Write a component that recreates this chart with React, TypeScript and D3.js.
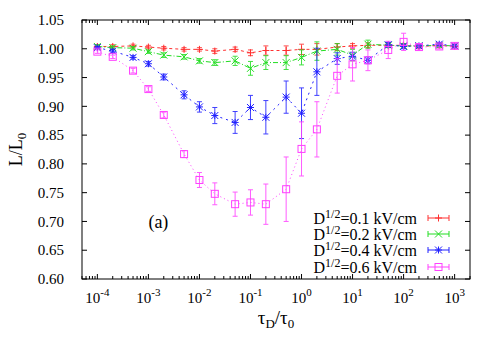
import React from 'react'
import * as d3 from 'd3'

// tau_D / tau_0 values (1-2-5 per decade)
const taus = [1e-4, 2e-4, 5e-4, 1e-3, 2e-3, 5e-3, 1e-2, 2e-2, 5e-2, 1e-1, 2e-1, 5e-1, 1, 2, 5, 10, 20, 50, 100, 200, 500, 1000]

const red01 = [1.004, 1.004, 1.005, 1.003, 1.001, 0.999, 0.999, 0.996, 0.999, 0.993, 0.997, 0.997, 0.999, 0.999, 1.003, 1.005, 1.006, 1.006, 1.006, 1.004, 1.006, 1.004]
const red01Err = [0.003, 0.003, 0.003, 0.003, 0.003, 0.003, 0.003, 0.004, 0.004, 0.005, 0.008, 0.008, 0.009, 0.01, 0.006, 0.004, 0.004, 0.003, 0.003, 0.003, 0.003, 0.003]

const green02 = [1.004, 1.002, 1.001, 0.995, 0.989, 0.986, 0.979, 0.976, 0.979, 0.966, 0.976, 0.976, 0.985, 0.996, 0.999, 0.989, 1.008, 1.006, 1.005, 1.005, 1.006, 1.005]
const green02Err = [0.003, 0.003, 0.003, 0.003, 0.004, 0.004, 0.004, 0.005, 0.008, 0.012, 0.012, 0.012, 0.013, 0.016, 0.01, 0.01, 0.007, 0.004, 0.004, 0.003, 0.003, 0.003]

const blue04 = [1.002, 0.996, 0.985, 0.974, 0.951, 0.92, 0.899, 0.884, 0.872, 0.898, 0.881, 0.916, 0.888, 0.96, 0.983, 0.987, 0.98, 1.007, 1.004, 1.005, 1.008, 1.005]
const blue04Err = [0.002, 0.003, 0.003, 0.004, 0.005, 0.007, 0.009, 0.014, 0.019, 0.021, 0.029, 0.028, 0.044, 0.041, 0.01, 0.007, 0.006, 0.004, 0.004, 0.003, 0.003, 0.003]

const pink06 = [0.995, 0.986, 0.962, 0.93, 0.885, 0.817, 0.772, 0.748, 0.73, 0.733, 0.73, 0.756, 0.826, 0.86, 0.953, 0.973, 0.98, 0.998, 1.012, 1.003, 1.004, 1.005]
const pink06Err = [0.003, 0.003, 0.004, 0.004, 0.005, 0.006, 0.013, 0.019, 0.021, 0.022, 0.035, 0.056, 0.047, 0.048, 0.03, 0.029, 0.018, 0.015, 0.015, 0.005, 0.004, 0.004]

const legendLabels = ['0.1', '0.2', '0.4', '0.6']
const yTicks = [0.6, 0.65, 0.7, 0.75, 0.8, 0.85, 0.9, 0.95, 1.0, 1.05]
const xTickExps = [-4, -3, -2, -1, 0, 1, 2, 3]

const W = 500
const H = 350
const left = 82
const right = 470
const top = 20
const bottom = 279

const FONT = '"Liberation Serif", "DejaVu Serif", serif'

type Series = { vals: number[]; errs: number[]; color: string; dash: string; marker: string }

const series: Series[] = [
  { vals: red01, errs: red01Err, color: '#ff3030', dash: '3,3', marker: 'plus' },
  { vals: green02, errs: green02Err, color: '#22dd22', dash: '5,2,1,2', marker: 'cross' },
  { vals: blue04, errs: blue04Err, color: '#2020ff', dash: '2,4', marker: 'star' },
  { vals: pink06, errs: pink06Err, color: '#ff40ff', dash: '1,3', marker: 'square' },
]

const Marker = ({ kind, x, y, color }: { kind: string; x: number; y: number; color: string }) => {
  const s = 3.5
  if (kind === 'square') {
    return <rect x={x - s} y={y - s} width={2 * s} height={2 * s} fill="none" stroke={color} strokeWidth={1} />
  }
  const plus = `M${x - s},${y}H${x + s}M${x},${y - s}V${y + s}`
  const cross = `M${x - s},${y - s}L${x + s},${y + s}M${x - s},${y + s}L${x + s},${y - s}`
  const d = kind === 'plus' ? plus : kind === 'cross' ? cross : plus + cross
  return <path d={d} stroke={color} strokeWidth={1} fill="none" />
}

const App = () => {
  const x = d3.scaleLog().domain([5e-5, 2e3]).range([left, right])
  const y = d3.scaleLinear().domain([0.6, 1.05]).range([bottom, top])

  const line = d3.line<number>()
    .x((_, i) => x(taus[i]))
    .y((v) => y(v))

  // minor log ticks 2..9 of each decade
  const minorTicks: number[] = []
  for (let e = -5; e <= 3; e++) {
    for (let m = 2; m <= 9; m++) {
      const v = m * Math.pow(10, e)
      if (v >= 5e-5 && v <= 2e3) minorTicks.push(v)
    }
  }

  const cap = 2.5
  const legendY = [218, 234, 250, 267]

  return (
    <svg width={W} height={H} style={{ position: 'absolute', left: 0, top: 0, background: '#fff' }} fontFamily={FONT}>
      {/* ticks */}
      <g stroke="#000" strokeWidth={1}>
        {yTicks.map((t) => (
          <g key={t}>
            <line x1={left} x2={left + 5} y1={y(t)} y2={y(t)} />
            <line x1={right} x2={right - 5} y1={y(t)} y2={y(t)} />
          </g>
        ))}
        {xTickExps.map((e) => (
          <g key={e}>
            <line x1={x(Math.pow(10, e))} x2={x(Math.pow(10, e))} y1={bottom} y2={bottom - 5} />
            <line x1={x(Math.pow(10, e))} x2={x(Math.pow(10, e))} y1={top} y2={top + 5} />
          </g>
        ))}
        {minorTicks.map((v) => (
          <g key={v}>
            <line x1={x(v)} x2={x(v)} y1={bottom} y2={bottom - 3} />
            <line x1={x(v)} x2={x(v)} y1={top} y2={top + 3} />
          </g>
        ))}
      </g>

      {/* tick labels */}
      {yTicks.map((t) => (
        <text key={t} x={64} y={y(t)} dy="0.35em" textAnchor="end" fontSize={15}>
          {t.toFixed(2)}
        </text>
      ))}
      {xTickExps.map((e) => (
        <text key={e} x={x(Math.pow(10, e))} y={303} textAnchor="middle" fontSize={15}>
          10<tspan dy={-7} fontSize={11}>{e}</tspan>
        </text>
      ))}

      {/* axis titles */}
      <text x={(left + right) / 2} y={324} textAnchor="middle" fontSize={19}>
        τ<tspan dy={4} fontSize={13}>D</tspan><tspan dy={-4}>/τ</tspan><tspan dy={4} fontSize={13}>0</tspan>
      </text>
      <text transform={`translate(22,${(top + bottom) / 2}) rotate(-90)`} textAnchor="middle" fontSize={18}>
        L/L<tspan dy={4} fontSize={13}>0</tspan>
      </text>

      <text x={x(1e-3)} y={y(0.7)} dy="0.35em" fontSize={18}>(a)</text>

      {/* series */}
      {series.map((s, si) => (
        <g key={si}>
          <path d={line(s.vals) ?? ''} fill="none" stroke={s.color} strokeWidth={1} strokeDasharray={s.dash} />
          <g stroke={s.color} strokeWidth={1} opacity={0.85}>
            {s.vals.map((v, i) => {
              const px = x(taus[i])
              const y1 = y(v - s.errs[i])
              const y2 = y(v + s.errs[i])
              return (
                <path key={i} d={`M${px},${y1}V${y2}M${px - cap},${y1}H${px + cap}M${px - cap},${y2}H${px + cap}`} fill="none" />
              )
            })}
          </g>
          {s.vals.map((v, i) => (
            <Marker key={i} kind={s.marker} x={x(taus[i])} y={y(v)} color={s.color} />
          ))}
        </g>
      ))}

      {/* legend */}
      {series.map((s, si) => (
        <g key={si}>
          <text x={417} y={legendY[si]} dy="0.35em" textAnchor="end" fontSize={16}>
            D<tspan dy={-6} fontSize={12}>1/2</tspan><tspan dy={6}>=</tspan>{legendLabels[si]} kV/cm
          </text>
          <path
            d={`M428,${legendY[si]}H449M428,${legendY[si] - 3}V${legendY[si] + 3}M449,${legendY[si] - 3}V${legendY[si] + 3}`}
            stroke={s.color}
            strokeWidth={1}
            fill="none"
          />
          <Marker kind={s.marker} x={438.5} y={legendY[si]} color={s.color} />
        </g>
      ))}

      {/* border */}
      <rect x={left} y={top} width={right - left} height={bottom - top} fill="none" stroke="#000" strokeWidth={1} />
    </svg>
  )
}

export default App
